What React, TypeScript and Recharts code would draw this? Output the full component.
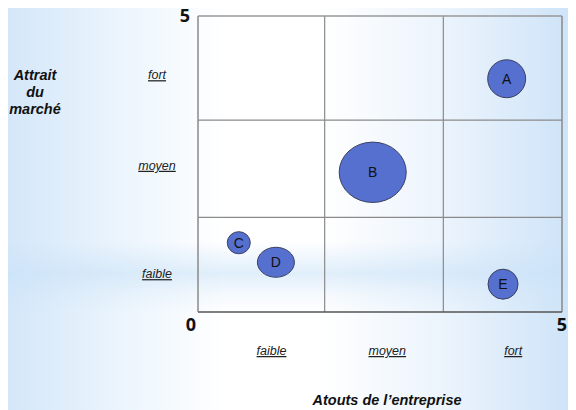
import { ScatterChart, Scatter, XAxis, YAxis, ZAxis, ReferenceLine } from "recharts"

const bubbleNames = ["A", "B", "C", "D", "E"]
const atouts = [4.24, 2.4, 0.56, 1.07, 4.19]
const attrait = [3.94, 2.36, 1.17, 0.84, 0.47]
const taille = [14.4, 45, 5.3, 13.7, 9]
const allongement = [1, 0.9, 0.96, 0.81, 1]

const xNumTicks = [0, 5]
const xCatPos = [1.01, 2.6, 4.33]
const xCatLabels = ["faible", "moyen", "fort"]
const yNumTicks = [5]
const yCatPos = [0.64, 2.47, 4.0]
const yCatLabels = ["faible", "moyen", "fort"]
const gridX = [1.74, 3.37]
const gridY = [1.6, 3.24]

const data = bubbleNames.map((name, i) => ({
  name,
  x: atouts[i],
  y: attrait[i],
  taille: taille[i],
  ratio: allongement[i],
}))

const numFont = { fontFamily: "'Open Sans', sans-serif", fontWeight: 700, fontSize: 18, fill: "#111" }
const catFont = {
  fontFamily: "'Liberation Sans', Arial, sans-serif",
  fontStyle: "italic",
  fontSize: 12.5,
  fill: "#222",
  textDecoration: "underline",
}
const titleFont = {
  fontFamily: "'Liberation Sans', Arial, sans-serif",
  fontStyle: "italic",
  fontWeight: 700,
  fontSize: 14.5,
  fill: "#111",
}

const XTick = (props: any) => {
  const { x, y, payload } = props
  const v = payload.value
  const idx = xCatPos.indexOf(v)
  if (idx >= 0) {
    return (
      <text x={x} y={y + 43} textAnchor="middle" style={catFont}>
        {xCatLabels[idx]}
      </text>
    )
  }
  return (
    <text x={v === 0 ? x - 7 : x} y={y + 19} textAnchor="middle" style={numFont}>
      {v}
    </text>
  )
}

const YTick = (props: any) => {
  const { x, y, payload } = props
  const v = payload.value
  const idx = yCatPos.indexOf(v)
  if (idx >= 0) {
    return (
      <text x={x - 41} y={y + 4} textAnchor="middle" style={catFont}>
        {yCatLabels[idx]}
      </text>
    )
  }
  return (
    <text x={x - 13} y={y + 6} textAnchor="middle" style={numFont}>
      {v}
    </text>
  )
}

const Bubble = (props: any) => {
  const { cx, cy, width, payload } = props
  const rx = width / 2
  const ry = rx * payload.ratio
  return (
    <g>
      <ellipse cx={cx} cy={cy} rx={rx} ry={ry} fill="#5670d0" stroke="#3c4060" strokeWidth={1} />
      <text
        x={cx}
        y={cy + 5}
        textAnchor="middle"
        style={{ fontFamily: "'Liberation Sans', Arial, sans-serif", fontSize: 14, fill: "#111" }}
      >
        {payload.name}
      </text>
    </g>
  )
}

export default function App() {
  return (
    <div
      style={{
        position: "relative",
        width: 568,
        height: 402,
        background:
          "linear-gradient(180deg, rgba(200,225,247,0) 58%, rgba(200,225,247,0.55) 66%, rgba(200,225,247,0.2) 71%, rgba(200,225,247,0) 76%), linear-gradient(90deg, #d4e7f9 0%, #eef6fd 22%, #ffffff 38%, #ffffff 55%, #eaf3fc 78%, #cde3f8 100%)",
      }}
    >
      <ScatterChart
        width={568}
        height={410}
        margin={{ top: 16, right: 14, bottom: 0, left: 0 }}
        style={{ position: "absolute", top: -8, left: 0, overflow: "visible" }}
      >
        <XAxis
          type="number"
          dataKey="x"
          domain={[0, 5]}
          ticks={[...xNumTicks, ...xCatPos]}
          interval={0}
          tick={<XTick />}
          tickLine={false}
          tickSize={0}
          tickMargin={0}
          height={98}
          axisLine={{ stroke: "#555", strokeWidth: 1.5 }}
          allowDataOverflow
        />
        <YAxis
          type="number"
          dataKey="y"
          domain={[0, 5]}
          ticks={[...yCatPos, ...yNumTicks]}
          interval={0}
          tick={<YTick />}
          tickLine={false}
          tickSize={0}
          tickMargin={0}
          width={190}
          axisLine={{ stroke: "#8a8a8a", strokeWidth: 1.5 }}
          allowDataOverflow
        />
        <ZAxis type="number" dataKey="taille" domain={[0, 100]} range={[0, 2500 * Math.PI]} />
        {gridX.map((g) => (
          <ReferenceLine key={"gx" + g} x={g} stroke="#8a8a8a" strokeWidth={1.2} />
        ))}
        {gridY.map((g) => (
          <ReferenceLine key={"gy" + g} y={g} stroke="#8a8a8a" strokeWidth={1.2} />
        ))}
        <ReferenceLine y={5} stroke="#999" strokeWidth={1.5} />
        <ReferenceLine x={5} stroke="#888" strokeWidth={1.5} />
        <Scatter data={data} shape={<Bubble />} isAnimationActive={false} />
        <text x={27} textAnchor="middle" style={titleFont}>
          <tspan x={27} y={80}>Attrait</tspan>
          <tspan x={27} y={97}>du</tspan>
          <tspan x={27} y={114}>marché</tspan>
        </text>
        <text x={379} y={405} textAnchor="middle" style={titleFont}>
          Atouts de l’entreprise
        </text>
      </ScatterChart>
    </div>
  )
}
